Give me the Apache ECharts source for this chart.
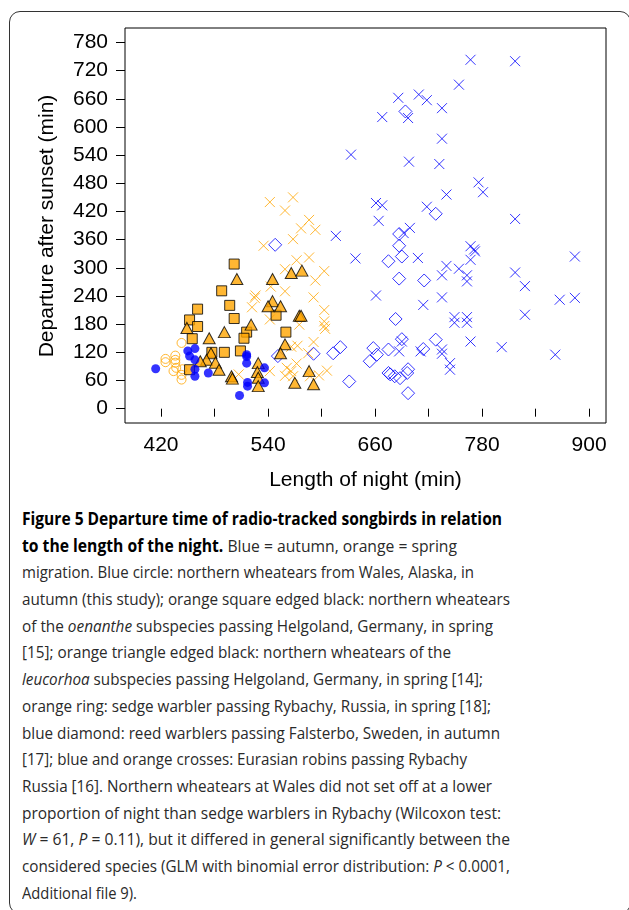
<!DOCTYPE html>
<html><head><meta charset="utf-8">
<script src="https://cdn.jsdelivr.net/npm/echarts@6/dist/echarts.min.js"></script>
<style>
html,body{margin:0;padding:0;background:#fff;}
#wrap{position:relative;width:629px;height:910px;overflow:hidden;}
#frame{position:absolute;left:9px;top:11px;width:622px;height:903px;border:1.5px solid #333;border-radius:11px;box-sizing:border-box;}
#chart{position:absolute;left:0;top:0;width:629px;height:500px;}
#cap{position:absolute;left:22px;top:506px;font-family:'Open Sans';font-size:17px;line-height:26.7px;color:#2a2a2a;white-space:nowrap;}
#cap div{transform-origin:0 0;height:26.7px;}
#cap span{display:inline-block;}
#cap b{color:#000;}
</style></head>
<body><div id="wrap"><div id="frame"></div><div id="chart"></div><div id="cap"></div></div>
<script>
// ---- data (length of night [min], departure after sunset [min]) ----
const xTicks = [420,480,540,600,660,720,780,840,900];
const xLabels = [420,540,660,780,900];
const yTicks = [0,60,120,180,240,300,360,420,480,540,600,660,720,780];

const wheatearWales = [[414,85],[450,123],[452,112],[458,128],[458,104],[458,84],[458,69],[473,76],[516,115],[516,111],[516,97],[517,56],[517,48],[508,28],[536,87],[536,55]];
const wheatearOenanthe = [[502,308],[488,251],[497,220],[461,212],[502,192],[452,189],[461,175],[549,199],[560,163],[516,163],[513,150],[455,149],[491,120],[509,123],[477,120],[452,83]];
const wheatearLeucorhoa = [[505,276],[545,276],[566,289],[578,294],[545,229],[540,218],[554,218],[575,198],[577,198],[449,172],[521,179],[474,150],[491,163],[559,137],[554,118],[476,118],[471,104],[481,98],[485,83],[464,101],[499,69],[500,64],[529,97],[528,78],[529,66],[529,48],[570,55],[586,80],[591,52]];
const sedgeWarbler = [[425,106],[425,99],[436,113],[436,104],[436,98],[437,87],[434,80],[443,140],[444,84],[443,72],[443,62]];
const reedWarbler = [[548,349],[694,633],[728,415],[687,372],[687,347],[690,324],[675,314],[687,277],[715,273],[683,191],[728,147],[690,148],[714,127],[675,126],[658,129],[662,115],[654,101],[621,131],[613,118],[591,117],[551,112],[631,58],[675,76],[677,73],[682,69],[688,65],[697,84],[696,76],[697,33]];
const robinAutumn = [[767,743],[817,740],[754,690],[686,662],[709,669],[718,657],[735,640],[668,621],[697,619],[735,575],[633,541],[698,526],[732,521],[776,482],[781,461],[740,456],[661,438],[668,433],[718,430],[817,404],[664,400],[616,368],[699,385],[692,374],[638,320],[708,321],[767,346],[771,339],[772,335],[767,317],[884,324],[740,304],[754,298],[735,284],[763,284],[763,271],[817,290],[828,261],[735,237],[714,221],[661,241],[867,232],[884,236],[828,200],[749,195],[749,183],[763,195],[763,183],[767,143],[802,131],[862,115],[735,126],[735,117],[744,97],[744,83],[711,122],[687,122],[690,143]];
const robinSpring = [[542,440],[568,450],[559,422],[586,402],[577,384],[593,381],[568,361],[535,347],[572,316],[586,322],[559,297],[603,293],[593,273],[543,260],[559,250],[591,237],[525,236],[526,241],[522,216],[603,210],[542,190],[575,179],[603,186],[604,170],[603,176],[573,134],[591,142],[566,132],[585,118],[572,96],[561,87],[566,80],[568,69],[559,70],[606,81],[597,71],[507,73],[542,80],[587,69]];

const captionLines = [
 '<b>Figure 5 Departure time of radio-tracked songbirds in relation</b>',
 '<b>to the length of the night.</b> Blue = autumn, orange = spring',
 'migration. Blue circle: northern wheatears from Wales, Alaska, in',
 'autumn (this study); orange square edged black: northern wheatears',
 'of the <i>oenanthe</i> subspecies passing Helgoland, Germany, in spring',
 '[15]; orange triangle edged black: northern wheatears of the',
 '<i>leucorhoa</i> subspecies passing Helgoland, Germany, in spring [14];',
 'orange ring: sedge warbler passing Rybachy, Russia, in spring [18];',
 'blue diamond: reed warblers passing Falsterbo, Sweden, in autumn',
 '[17]; blue and orange crosses: Eurasian robins passing Rybachy',
 'Russia [16]. Northern wheatears at Wales did not set off at a lower',
 'proportion of night than sedge warblers in Rybachy (Wilcoxon test:',
 '<i>W</i> = 61, <i>P</i> = 0.11), but it differed in general significantly between the',
 'considered species (GLM with binomial error distribution: <i>P</i> &lt; 0.0001,',
 'Additional file 9).'
];
const captionLineEnds = [502,457,474,510,493,451,483,491,500,467,492,501,510,510,137];

// ---- caption ----
const cap = document.getElementById('cap');
cap.innerHTML = captionLines.map(l => '<div><span>' + l + '</span></div>').join('');
Array.from(cap.children).forEach((d, i) => {
  const w = d.firstChild.getBoundingClientRect().width;
  const target = captionLineEnds[i] - 22;
  d.style.transform = 'scaleX(' + (target / w) + ')';
});

// ---- chart ----
const BLUE = '#0000ff', ORANGE = '#ffa500';
const FONT = '"Liberation Sans", Arial, sans-serif';
const CROSS = 'path://M0,0L10,10M10,0L0,10';
const DIAMOND = 'path://M5,0L10,5L5,10L0,5Z';
const clear = 'rgba(0,0,0,0)';
function S(data, symbol, size, style, z) {
  return {type:'scatter', data:data, symbol:symbol, symbolSize:size, itemStyle:style,
          z:z, silent:true, emphasis:{disabled:true}};
}
const chart = echarts.init(document.getElementById('chart'), null, {renderer:'canvas'});
chart.setOption({
  animation:false,
  grid:{left:125, top:28, width:481, height:395, show:true, borderColor:'#000', borderWidth:1, backgroundColor:clear},
  xAxis:{type:'value', min:379.6, max:918.9,
    axisLine:{show:false},
    axisTick:{show:true, inside:false, length:8, lineStyle:{color:'#000'}, customValues:xTicks},
    axisLabel:{show:true, margin:12, fontSize:21, fontFamily:FONT, color:'#000', customValues:xLabels},
    splitLine:{show:false}},
  yAxis:{type:'value', min:-30.5, max:810.7,
    axisLine:{show:false},
    axisTick:{show:true, inside:false, length:9, lineStyle:{color:'#000'}, customValues:yTicks},
    axisLabel:{show:true, margin:17, fontSize:21, fontFamily:FONT, color:'#000', customValues:yTicks},
    splitLine:{show:false}},
  graphic:[
    {type:'text', x:365.5, y:480, silent:true, style:{text:'Length of night (min)', font:'21px ' + FONT, fill:'#000', align:'center', verticalAlign:'middle', textAlign:'center', textVerticalAlign:'middle'}},
    {type:'text', x:47, y:226, rotation:Math.PI/2, silent:true, style:{text:'Departure after sunset (min)', font:'21px ' + FONT, fill:'#000', align:'center', verticalAlign:'middle', textAlign:'center', textVerticalAlign:'middle'}}
  ],
  series:[
    S(robinAutumn, CROSS, 10, {color:clear, borderColor:BLUE, borderWidth:1}, 2),
    S(robinSpring, CROSS, 10, {color:clear, borderColor:ORANGE, borderWidth:1}, 2),
    S(reedWarbler, DIAMOND, 13, {color:clear, borderColor:BLUE, borderWidth:1}, 3),
    S(sedgeWarbler, 'circle', 9, {color:clear, borderColor:ORANGE, borderWidth:1}, 3),
    S(wheatearOenanthe, 'rect', 10, {color:ORANGE, borderColor:'#000', borderWidth:1}, 4),
    S(wheatearLeucorhoa, 'triangle', [12,11], {color:ORANGE, borderColor:'#000', borderWidth:1}, 5),
    S(wheatearWales, 'circle', 9, {color:BLUE}, 6)
  ]
});
</script></body></html>
